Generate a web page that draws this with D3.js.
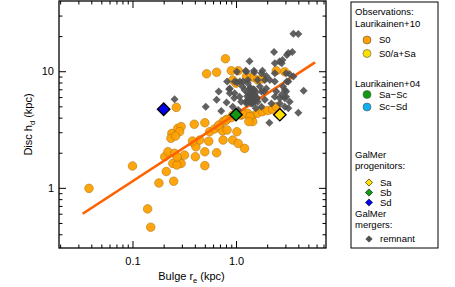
<!DOCTYPE html>
<html>
<head>
<meta charset="utf-8">
<script src="https://cdn.jsdelivr.net/npm/d3@7"></script>
<style>
  body { margin: 0; background: #fff; }
  text { font-family: "Liberation Sans", Arial, sans-serif; fill: #000; }
</style>
</head>
<body>
<div id="wrapper"></div>
<script>
// Observations: Laurikainen+10 S0 galaxies [bulge r_e, disc h_d] in kpc
const s0Re = [0.038, 0.10, 0.14, 0.15, 0.18, 0.25, 0.212, 0.265, 0.205, 0.22, 0.255, 0.285, 0.318,
  0.245, 0.295, 0.268, 0.27, 0.24, 0.235, 0.274, 0.295, 0.285, 0.26, 0.395, 0.395, 0.41, 0.446,
  0.38, 0.405, 0.50, 0.50, 0.545, 0.50, 0.65, 0.556, 0.62, 0.69, 0.74, 0.82, 0.75, 0.81, 0.90,
  0.93, 1.02, 1.05, 1.21, 0.75, 0.52, 0.65, 0.79, 0.90, 1.05, 0.93, 1.45, 1.62, 1.8, 2.45, 2.95,
  1.0, 1.26, 1.12, 1.29, 1.43, 1.61, 1.8, 2.03, 2.25, 2.45, 1.45, 0.93, 1.17, 1.36, 1.33, 0.80, 0.68];
const s0Hd = [0.99, 1.54, 0.66, 0.46, 1.10, 1.14, 1.38, 4.9, 1.85, 2.04, 1.98, 1.67, 1.91,
  1.62, 1.62, 1.57, 1.84, 2.93, 2.66, 3.24, 3.35, 3.03, 2.78, 3.51, 2.41, 2.25, 2.57,
  2.52, 1.85, 2.04, 3.62, 2.51, 1.55, 2.0, 3.03, 3.2, 3.3, 3.08, 3.13, 3.7, 3.85, 4.0,
  2.57, 3.03, 2.4, 2.18, 2.57, 9.5, 9.8, 12.8, 10.1, 10.1, 8.4, 8.9, 8.4, 8.6, 10.1, 9.9,
  7.9, 9.0, 4.2, 4.36, 4.13, 4.36, 4.5, 4.6, 4.72, 4.97, 3.7, 4.2, 4.28, 4.08, 3.7, 3.8, 3.45];

// GalMer merger remnants
const remRe = [0.255, 0.51, 0.65, 0.68, 0.72, 0.81, 0.86, 0.82, 0.97, 1.02, 1.24, 1.35, 1.49,
  0.97, 1.02, 1.17, 1.3, 1.8, 1.9, 1.62, 1.08, 1.12, 1.26, 0.93, 1.05, 1.21, 1.36, 1.45, 1.5,
  1.55, 1.41, 1.3, 1.62, 1.45, 1.76, 1.76, 1.55, 1.9, 1.96, 2.12, 2.37, 2.37, 2.33, 2.63, 2.81,
  3.1, 3.5, 3.04, 3.58, 4.0, 3.58, 3.1, 2.96, 4.5, 4.0, 3.3, 2.96, 2.65, 2.37, 2.45, 2.76, 3.05,
  3.2, 2.1, 2.2, 2.65, 2.96, 3.2, 2.76, 2.37, 3.3, 3.2, 1.26, 1.5, 1.76, 1.96, 0.87, 1.09, 1.15,
  1.3, 1.7, 1.86, 3.05, 2.84, 1.3, 1.35, 1.4, 1.45, 1.5, 1.42, 1.38, 1.48, 1.55, 1.33, 1.28,
  1.52, 1.6, 1.25, 1.4, 0.87, 0.96];
const remHd = [5.76, 4.97, 5.68, 6.7, 4.57, 5.39, 7.0, 8.15, 6.46, 9.9, 10.1, 12.2, 10.1,
  8.15, 8.0, 8.15, 8.4, 10.1, 8.4, 8.4, 6.05, 5.48, 5.3, 4.97, 4.66, 6.9, 7.1, 6.46, 6.9,
  6.05, 5.87, 5.68, 5.48, 5.3, 6.7, 4.97, 4.82, 5.68, 7.1, 8.4, 8.15, 11.7, 14.6, 12.1, 12.5,
  13.8, 14.6, 9.6, 21, 20.8, 9.0, 8.15, 6.9, 6.8, 4.4, 5.48, 5.87, 5.87, 6.05, 6.7, 6.27, 6.05,
  4.82, 3.62, 5.3, 5.3, 4.97, 14.3, 11.7, 9.6, 9.4, 8.15, 9.9, 9.8, 9.6, 9.1, 7.1, 8.15, 7.4,
  7.9, 7.4, 6.7, 6.7, 7.4, 6.5, 6.2, 6.0, 5.8, 6.3, 6.8, 7.2, 7.0, 6.6, 5.7, 6.1,
  5.5, 5.9, 5.5, 5.3, 6.46, 5.9];

// GalMer progenitors
const progNames = ['Sa', 'Sb', 'Sd'];
const progRe = [2.65, 1.0, 0.2];
const progHd = [4.24, 4.24, 4.72];

// fit line end points
const fitRe = [0.033, 5.8];
const fitHd = [0.60, 11.9];

const xMajor = [0.1, 1.0];
const xMajorLabels = ['0.1', '1.0'];
const yMajor = [1, 10];
const yMajorLabels = ['1', '10'];

const colors = { Sa: '#ffe000', Sb: '#119911', Sd: '#0000ee', S0: '#ffa000', remnant: '#505050' };

const width = 455;
const height = 287;
let dimensions = {
  width,
  height,
  margin: { top: 1, right: 129, bottom: 39, left: 59 },
};
dimensions.boundedWidth = dimensions.width - dimensions.margin.left - dimensions.margin.right;
dimensions.boundedHeight = dimensions.height - dimensions.margin.top - dimensions.margin.bottom;

const xScale = d3.scaleLog().domain([0.0195, 7.4]).range([0, dimensions.boundedWidth]);
const yScale = d3.scaleLog().domain([0.305, 40]).range([dimensions.boundedHeight, 0]);

const svg = d3.select('#wrapper').append('svg')
  .attr('width', dimensions.width)
  .attr('height', dimensions.height);

const bounds = svg.append('g')
  .attr('transform', `translate(${dimensions.margin.left}, ${dimensions.margin.top})`);

const diamond = (h) => `M0,${-h}L${h},0L0,${h}L${-h},0Z`;

// minor tick values
const xMinor = [];
[0.01, 0.1, 1].forEach((d) => { for (let k = 2; k <= 9; k++) xMinor.push(d * k); });
const xMinorIn = xMinor.filter((v) => v > xScale.domain()[0] && v < xScale.domain()[1]);
const yMinor = [];
[0.1, 1, 10].forEach((d) => { for (let k = 2; k <= 9; k++) yMinor.push(d * k); });
const yMinorIn = yMinor.filter((v) => v > yScale.domain()[0] && v < yScale.domain()[1]);

// S0 circles
bounds.append('g').selectAll('circle')
  .data(s0Re.map((r, i) => [r, s0Hd[i]]))
  .join('circle')
  .attr('cx', (d) => xScale(d[0]))
  .attr('cy', (d) => yScale(d[1]))
  .attr('r', 4.3)
  .attr('fill', colors.S0)
  .attr('stroke', '#b07818')
  .attr('stroke-width', 0.6)
  .attr('fill-opacity', 0.95);

// fit line
const lineGenerator = d3.line().x((d) => xScale(d[0])).y((d) => yScale(d[1]));
bounds.append('path')
  .attr('d', lineGenerator(fitRe.map((r, i) => [r, fitHd[i]])))
  .attr('fill', 'none')
  .attr('stroke', '#ff6000')
  .attr('stroke-width', 2.6);

// remnants
bounds.append('g').selectAll('path')
  .data(remRe.map((r, i) => [r, remHd[i]]))
  .join('path')
  .attr('d', diamond(4))
  .attr('transform', (d) => `translate(${xScale(d[0])}, ${yScale(d[1])})`)
  .attr('fill', colors.remnant)
  .attr('fill-opacity', 0.9);

// progenitors
bounds.append('g').selectAll('path')
  .data(progNames.map((n, i) => [progRe[i], progHd[i], n]))
  .join('path')
  .attr('d', diamond(6.2))
  .attr('transform', (d) => `translate(${xScale(d[0])}, ${yScale(d[1])})`)
  .attr('fill', (d) => colors[d[2]])
  .attr('stroke', '#000')
  .attr('stroke-width', 1.4);

// axes, ticks inward on all sides
const addAxis = (axis, tr) => bounds.append('g').attr('transform', tr).call(axis)
  .call((g) => g.select('.domain').remove())
  .call((g) => g.selectAll('line').attr('stroke', '#000'));

const fmtX = (d) => xMajorLabels[xMajor.indexOf(d)];
const fmtY = (d) => yMajorLabels[yMajor.indexOf(d)];

const xB = addAxis(d3.axisBottom(xScale).tickValues(xMajor).tickFormat(fmtX).tickSize(-7).tickPadding(9),
  `translate(0, ${dimensions.boundedHeight})`);
xB.selectAll('text').style('font-size', '11px');
addAxis(d3.axisBottom(xScale).tickValues(xMinorIn).tickFormat('').tickSize(-3.5), `translate(0, ${dimensions.boundedHeight})`);
addAxis(d3.axisTop(xScale).tickValues(xMajor).tickFormat('').tickSize(-7), 'translate(0, 0)');
addAxis(d3.axisTop(xScale).tickValues(xMinorIn).tickFormat('').tickSize(-3.5), 'translate(0, 0)');

const yL = addAxis(d3.axisLeft(yScale).tickValues(yMajor).tickFormat(fmtY).tickSize(-7).tickPadding(5), 'translate(0, 0)');
yL.selectAll('text').style('font-size', '11px');
addAxis(d3.axisLeft(yScale).tickValues(yMinorIn).tickFormat('').tickSize(-3.5), 'translate(0, 0)');
addAxis(d3.axisRight(yScale).tickValues(yMajor).tickFormat('').tickSize(-7), `translate(${dimensions.boundedWidth}, 0)`);
addAxis(d3.axisRight(yScale).tickValues(yMinorIn).tickFormat('').tickSize(-3.5), `translate(${dimensions.boundedWidth}, 0)`);

bounds.append('rect')
  .attr('width', dimensions.boundedWidth)
  .attr('height', dimensions.boundedHeight)
  .attr('fill', 'none')
  .attr('stroke', '#000')
  .attr('stroke-width', 1.3);

// axis labels
const xLabel = svg.append('text')
  .attr('x', dimensions.margin.left + dimensions.boundedWidth / 2 - 1)
  .attr('y', 280)
  .attr('text-anchor', 'middle')
  .style('font-size', '11px');
xLabel.append('tspan').text('Bulge r');
xLabel.append('tspan').attr('dy', 2.5).style('font-size', '7.5px').text('e');
xLabel.append('tspan').attr('dy', -2.5).text(' (kpc)');

const yLabel = svg.append('text')
  .attr('transform', `translate(32, ${dimensions.margin.top + dimensions.boundedHeight / 2}) rotate(-90)`)
  .attr('text-anchor', 'middle')
  .style('font-size', '11px');
yLabel.append('tspan').text('Disc h');
yLabel.append('tspan').attr('dy', 2.5).style('font-size', '7.5px').text('d');
yLabel.append('tspan').attr('dy', -2.5).text(' (kpc)');

// legend
const legend = svg.append('g');
legend.append('rect')
  .attr('x', 351).attr('y', 2).attr('width', 87).attr('height', 246)
  .attr('fill', '#fff').attr('stroke', '#000').attr('stroke-width', 1);

const legendTitles = [
  ['Observations:', 15], ['Laurikainen+10', 26.5], ['Laurikainen+04', 87],
  ['GalMer', 157.5], ['progenitors:', 168.5], ['GalMer', 216.5], ['mergers:', 227.5],
];
legend.selectAll('.ttl').data(legendTitles).join('text')
  .attr('x', 355).attr('y', (d) => d[1])
  .style('font-size', '9.5px')
  .text((d) => d[0]);

const legendCircles = [
  ['S0', '#ffa000', 40], ['S0/a+Sa', '#ffe000', 53.5], ['Sa\u2212Sc', '#119911', 94.5], ['Sc\u2212Sd', '#10b0f0', 107],
];
legendCircles.forEach(([label, c, y]) => {
  legend.append('circle').attr('cx', 367).attr('cy', y).attr('r', 4)
    .attr('fill', c).attr('stroke', '#555').attr('stroke-width', 0.6);
  legend.append('text').attr('x', 379).attr('y', y + 3.3).style('font-size', '9.5px').text(label);
});

const legendDiamonds = [
  ['Sa', colors.Sa, 182.5, true], ['Sb', colors.Sb, 192.5, true], ['Sd', colors.Sd, 202.5, true],
  ['remnant', colors.remnant, 239, false],
];
legendDiamonds.forEach(([label, c, y, edge]) => {
  legend.append('path').attr('d', diamond(3.6))
    .attr('transform', `translate(369, ${y})`)
    .attr('fill', c)
    .attr('stroke', edge ? '#000' : 'none').attr('stroke-width', 0.6);
  legend.append('text').attr('x', 380).attr('y', y + 3.3).style('font-size', '9.5px').text(label);
});
</script>
</body>
</html>
